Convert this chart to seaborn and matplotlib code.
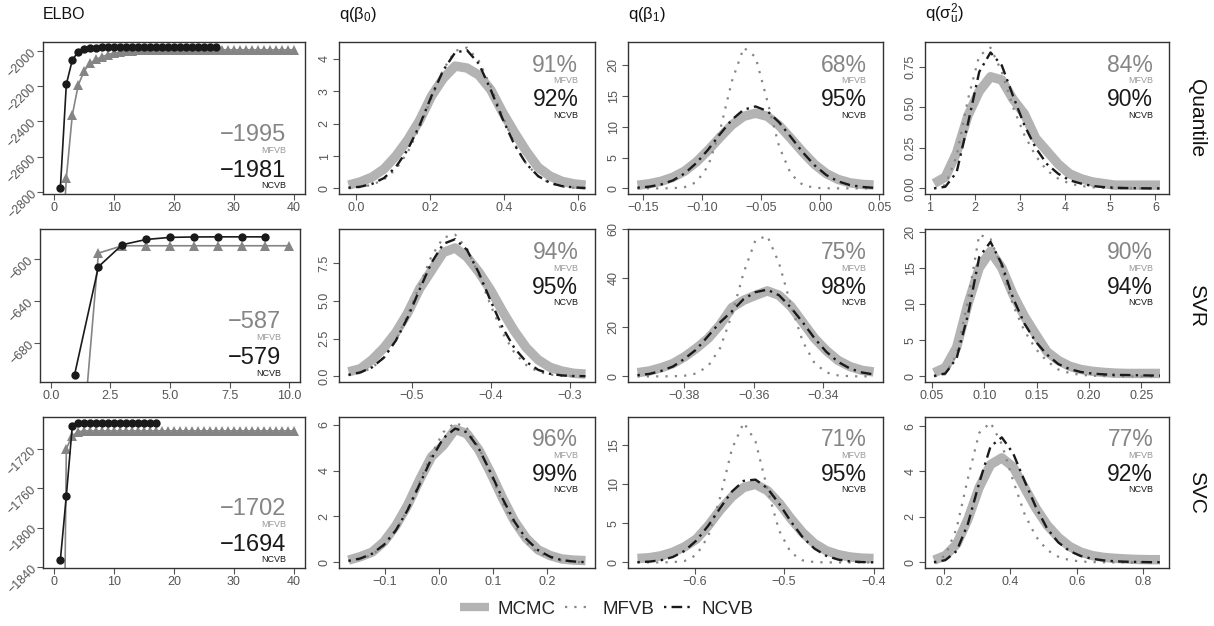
import numpy as np
import pandas as pd
import matplotlib
matplotlib.use("Agg")
import matplotlib.pyplot as plt
import seaborn as sns
from matplotlib.lines import Line2D

# ---------------- data ----------------
models = ["Quantile", "SVR", "SVC"]
param_titles = ["q($\\beta_0$)", "q($\\beta_1$)", "q($\\sigma^2_u$)"]

# ELBO traces (per iteration)
elbo_q_ncvb = [-2777, -2190, -2053, -2005, -1990, -1985, -1983, -1982, -1982, -1981,
               -1981, -1981, -1981, -1981, -1981, -1981, -1981, -1981, -1981, -1981,
               -1981, -1981, -1981, -1981, -1981, -1981, -1981]
elbo_q_mfvb = [-3300, -2721, -2363, -2194, -2113, -2071, -2049, -2034, -2022, -2014,
               -2008, -2004, -2001, -1999, -1998, -1997, -1996, -1996, -1996, -1995,
               -1995, -1995, -1995, -1995, -1995, -1995, -1995, -1995, -1995, -1995,
               -1995, -1995, -1995, -1995, -1995, -1995, -1995, -1995, -1995, -1995]
elbo_s_ncvb = [-710, -607, -586, -581, -579, -578.6, -578.5, -578.5, -578.5]
elbo_s_mfvb = [-864, -594, -587, -587, -587, -587, -587, -587, -587, -587]
elbo_v_ncvb = [-1833, -1768, -1697, -1694, -1694, -1694, -1694, -1694, -1694, -1694,
               -1694, -1694, -1694, -1694, -1694, -1694, -1694]
elbo_v_mfvb = [-2300, -1720, -1707, -1703, -1702, -1702, -1702, -1702, -1702, -1702,
               -1702, -1702, -1702, -1702, -1702, -1702, -1702, -1702, -1702, -1702,
               -1702, -1702, -1702, -1702, -1702, -1702, -1702, -1702, -1702, -1702,
               -1702, -1702, -1702, -1702, -1702, -1702, -1702, -1702, -1702, -1702]
elbo_final_mfvb = ["\u22121995", "\u2212587", "\u22121702"]
elbo_final_ncvb = ["\u22121981", "\u2212579", "\u22121694"]

# Quantile densities
q_b0_x = [-0.02, 0.012, 0.044, 0.076, 0.108, 0.14, 0.172, 0.204, 0.236, 0.268, 0.30,
          0.332, 0.364, 0.396, 0.428, 0.46, 0.492, 0.524, 0.556, 0.588, 0.62]
q_b0_mcmc = [0.10, 0.20, 0.35, 0.60, 1.00, 1.50, 2.10, 2.85, 3.40, 3.78, 3.72, 3.50, 3.05,
             2.35, 1.73, 1.15, 0.65, 0.38, 0.22, 0.14, 0.10]
q_b0_mfvb = [0.01, 0.04, 0.11, 0.28, 0.59, 1.12, 1.88, 2.80, 3.67, 4.25, 4.35, 3.94, 3.15,
             2.23, 1.38, 0.76, 0.37, 0.16, 0.06, 0.02, 0.01]
q_b0_ncvb = [0.02, 0.05, 0.14, 0.32, 0.66, 1.20, 1.95, 2.85, 3.65, 4.20, 4.27, 3.85, 3.05,
             2.15, 1.35, 0.76, 0.38, 0.17, 0.07, 0.03, 0.01]

q_b1_x = [-0.155, -0.145, -0.135, -0.125, -0.115, -0.105, -0.095, -0.085, -0.075, -0.065,
          -0.055, -0.045, -0.035, -0.025, -0.015, -0.005, 0.005, 0.015, 0.025, 0.035, 0.045]
q_b1_mcmc = [0.5, 0.75, 1.15, 1.8, 2.8, 4.3, 6.2, 8.3, 10.3, 11.7, 12.2, 11.7, 10.2, 8.1,
             5.9, 3.9, 2.4, 1.45, 0.9, 0.65, 0.55]
q_b1_mfvb = [0.0, 0.0, 0.0, 0.03, 0.2, 1.02, 3.67, 9.46, 17.4, 22.85, 21.35, 14.2, 6.8, 2.3,
             0.56, 0.1, 0.01, 0.0, 0.0, 0.0, 0.0]
q_b1_ncvb = [0.11, 0.28, 0.63, 1.29, 2.43, 4.13, 6.32, 8.82, 11.15, 12.78, 13.3, 12.55,
             10.72, 8.32, 5.86, 3.75, 2.16, 1.13, 0.54, 0.24, 0.09]

q_s2_x = [1.1, 1.35, 1.6, 1.85, 2.1, 2.35, 2.6, 2.85, 3.1, 3.35, 3.6, 3.85, 4.1, 4.35, 4.6,
          4.85, 5.1, 5.35, 5.6, 5.85, 6.1]
q_s2_mcmc = [0.03, 0.07, 0.22, 0.45, 0.60, 0.69, 0.67, 0.55, 0.46, 0.31, 0.23, 0.15, 0.09,
             0.06, 0.04, 0.03, 0.02, 0.02, 0.02, 0.02, 0.02]
q_s2_mfvb = [0.0, 0.02, 0.20, 0.55, 0.82, 0.87, 0.72, 0.50, 0.33, 0.20, 0.11, 0.06, 0.03,
             0.015, 0.007, 0.003, 0.001, 0.0, 0.0, 0.0, 0.0]
q_s2_ncvb = [0.0, 0.01, 0.10, 0.40, 0.72, 0.84, 0.76, 0.57, 0.39, 0.25, 0.15, 0.09, 0.05,
             0.03, 0.015, 0.008, 0.004, 0.002, 0.001, 0.0, 0.0]

# SVR densities
s_b0_x = [-0.58, -0.565, -0.55, -0.535, -0.52, -0.505, -0.49, -0.475, -0.46, -0.445, -0.43,
          -0.415, -0.40, -0.385, -0.37, -0.355, -0.34, -0.325, -0.31, -0.295, -0.28]
s_b0_mcmc = [0.3, 0.5, 1.1, 1.9, 2.9, 4.2, 5.8, 7.0, 8.2, 8.5, 7.9, 6.9, 5.7, 4.3, 3.0, 1.9,
             1.1, 0.6, 0.35, 0.2, 0.15]
s_b0_mfvb = [0.08, 0.23, 0.57, 1.25, 2.38, 4.06, 6.02, 7.94, 9.19, 9.38, 8.45, 6.71, 4.69,
             2.88, 1.56, 0.75, 0.31, 0.12, 0.04, 0.01, 0.0]
s_b0_ncvb = [0.10, 0.26, 0.60, 1.25, 2.37, 3.90, 5.75, 7.52, 8.77, 9.08, 8.37, 6.85, 4.99,
             3.23, 1.87, 0.96, 0.43, 0.17, 0.06, 0.02, 0.01]

s_b1_x = [-0.3935, -0.3901, -0.3867, -0.3833, -0.3799, -0.3765, -0.3731, -0.3697, -0.3663,
          -0.3629, -0.3595, -0.3561, -0.3527, -0.3493, -0.3459, -0.3425, -0.3391, -0.3357,
          -0.3323, -0.3289, -0.3255]
s_b1_mcmc = [1.5, 2.2, 3.5, 5.2, 8.0, 11.5, 15.5, 21.0, 28.0, 31.0, 33.0, 34.8, 33.0, 28.5,
             22.0, 15.5, 10.5, 6.5, 4.0, 2.5, 1.8]
s_b1_mfvb = [0.0, 0.0, 0.01, 0.05, 0.27, 1.19, 4.25, 11.5, 25.0, 42.3, 55.5, 57.2, 46.0,
             29.0, 14.2, 5.4, 1.6, 0.38, 0.07, 0.01, 0.0]
s_b1_ncvb = [0.5, 1.0, 2.2, 4.0, 7.2, 11.0, 16.5, 22.0, 26.5, 31.5, 34.3, 35.3, 33.0, 28.0,
             22.0, 15.5, 10.0, 5.9, 3.2, 1.6, 0.8]

s_s2_x = [0.052, 0.0628, 0.0736, 0.0844, 0.0952, 0.106, 0.1168, 0.1276, 0.1384, 0.1492,
          0.16, 0.1708, 0.1816, 0.1924, 0.2032, 0.214, 0.2248, 0.2356, 0.2464, 0.2572, 0.268]
s_s2_mcmc = [0.5, 1.2, 4.0, 10.0, 15.0, 17.3, 15.0, 11.3, 8.3, 5.8, 3.4, 2.2, 1.4, 0.95,
             0.7, 0.55, 0.45, 0.4, 0.4, 0.4, 0.4]
s_s2_mfvb = [0.0, 0.3, 3.0, 10.5, 19.6, 19.0, 15.0, 9.8, 6.3, 3.8, 2.1, 0.95, 0.45, 0.2,
             0.09, 0.04, 0.02, 0.01, 0.0, 0.0, 0.0]
s_s2_ncvb = [0.05, 0.4, 2.5, 8.5, 16.5, 18.6, 15.5, 10.8, 7.3, 4.8, 3.0, 1.7, 1.0, 0.6,
             0.38, 0.27, 0.2, 0.18, 0.15, 0.12, 0.1]

# SVC densities
v_b0_x = [-0.168, -0.146, -0.124, -0.102, -0.08, -0.058, -0.036, -0.014, 0.008, 0.03, 0.052,
          0.074, 0.096, 0.118, 0.14, 0.162, 0.184, 0.206, 0.228, 0.25, 0.272]
v_b0_mcmc = [0.10, 0.25, 0.45, 0.90, 1.60, 2.50, 3.60, 4.60, 5.10, 5.80, 5.60, 4.90, 3.90,
             2.80, 1.80, 1.05, 0.55, 0.30, 0.15, 0.10, 0.08]
v_b0_mfvb = [0.05, 0.14, 0.34, 0.73, 1.37, 2.31, 3.50, 4.71, 5.67, 6.09, 5.84, 5.01, 3.84,
             2.62, 1.60, 0.87, 0.42, 0.19, 0.07, 0.02, 0.01]
v_b0_ncvb = [0.07, 0.17, 0.38, 0.77, 1.40, 2.29, 3.40, 4.52, 5.41, 5.83, 5.67, 4.96, 3.91,
             2.78, 1.78, 1.02, 0.53, 0.25, 0.10, 0.04, 0.01]

v_b1_x = [-0.664, -0.6508, -0.6376, -0.6244, -0.6112, -0.598, -0.5848, -0.5716, -0.5584,
          -0.5452, -0.532, -0.5188, -0.5056, -0.4924, -0.4792, -0.466, -0.4528, -0.4396,
          -0.4264, -0.4132, -0.40]
v_b1_mcmc = [0.5, 0.6, 0.85, 1.3, 2.0, 3.0, 4.7, 6.7, 8.4, 9.6, 10.0, 9.2, 7.6, 5.6, 3.8,
             2.4, 1.5, 1.0, 0.7, 0.55, 0.5]
v_b1_mfvb = [0.0, 0.0, 0.0, 0.03, 0.19, 0.96, 3.35, 8.29, 14.5, 17.9, 15.5, 9.43, 4.07,
             1.24, 0.26, 0.04, 0.0, 0.0, 0.0, 0.0, 0.0]
v_b1_ncvb = [0.03, 0.10, 0.28, 0.69, 1.48, 2.81, 4.71, 6.95, 9.07, 10.44, 10.6, 9.5, 7.52,
             5.23, 3.21, 1.76, 0.84, 0.36, 0.13, 0.04, 0.01]

v_s2_x = [0.17, 0.204, 0.238, 0.272, 0.306, 0.34, 0.374, 0.408, 0.442, 0.476, 0.51, 0.544,
          0.578, 0.612, 0.646, 0.68, 0.714, 0.748, 0.782, 0.816, 0.85]
v_s2_mcmc = [0.1, 0.3, 0.8, 1.9, 3.3, 4.3, 4.6, 4.2, 3.3, 2.4, 1.65, 1.1, 0.7, 0.45, 0.3,
             0.22, 0.18, 0.15, 0.13, 0.12, 0.12]
v_s2_mfvb = [0.02, 0.3, 1.5, 3.7, 5.7, 6.15, 5.2, 3.6, 2.15, 1.15, 0.55, 0.25, 0.1, 0.04,
             0.015, 0.005, 0.0, 0.0, 0.0, 0.0, 0.0]
v_s2_ncvb = [0.0, 0.1, 0.5, 1.7, 3.5, 5.1, 5.5, 4.8, 3.6, 2.45, 1.5, 0.88, 0.5, 0.28, 0.16,
             0.09, 0.05, 0.03, 0.02, 0.01, 0.01]

# coverage accuracies (%)
acc_mfvb = [["91%", "68%", "84%"], ["94%", "75%", "90%"], ["96%", "71%", "77%"]]
acc_ncvb = [["92%", "95%", "90%"], ["95%", "98%", "94%"], ["99%", "95%", "92%"]]

# tick values / labels
M = "\u2212"
elbo_xticks = [[0, 10, 20, 30, 40], [0, 2.5, 5, 7.5, 10], [0, 10, 20, 30, 40]]
elbo_xlabels = [["0", "10", "20", "30", "40"], ["0.0", "2.5", "5.0", "7.5", "10.0"],
                ["0", "10", "20", "30", "40"]]
elbo_yticks = [[-2800, -2600, -2400, -2200, -2000], [-680, -640, -600],
               [-1840, -1800, -1760, -1720]]
dens_xticks = [
    [[0.0, 0.2, 0.4, 0.6], [-0.15, -0.10, -0.05, 0.0, 0.05], [1, 2, 3, 4, 5, 6]],
    [[-0.5, -0.4, -0.3], [-0.38, -0.36, -0.34], [0.05, 0.10, 0.15, 0.20, 0.25]],
    [[-0.1, 0.0, 0.1, 0.2], [-0.6, -0.5, -0.4], [0.2, 0.4, 0.6, 0.8]],
]
dens_xfmt = [["%.1f", "%.2f", "%d"], ["%.1f", "%.2f", "%.2f"], ["%.1f", "%.1f", "%.1f"]]
dens_yticks = [
    [[0, 1, 2, 3, 4], [0, 5, 10, 15, 20], [0, 0.25, 0.5, 0.75]],
    [[0, 2.5, 5, 7.5], [0, 20, 40, 60], [0, 5, 10, 15, 20]],
    [[0, 2, 4, 6], [0, 5, 10, 15], [0, 2, 4, 6]],
]
dens_yfmt = [["%d", "%d", "%.2f"], ["%.1f", "%d", "%d"], ["%d", "%d", "%d"]]

elbo_data = [(elbo_q_mfvb, elbo_q_ncvb), (elbo_s_mfvb, elbo_s_ncvb), (elbo_v_mfvb, elbo_v_ncvb)]
dens_data = [
    [(q_b0_x, q_b0_mcmc, q_b0_mfvb, q_b0_ncvb), (q_b1_x, q_b1_mcmc, q_b1_mfvb, q_b1_ncvb),
     (q_s2_x, q_s2_mcmc, q_s2_mfvb, q_s2_ncvb)],
    [(s_b0_x, s_b0_mcmc, s_b0_mfvb, s_b0_ncvb), (s_b1_x, s_b1_mcmc, s_b1_mfvb, s_b1_ncvb),
     (s_s2_x, s_s2_mcmc, s_s2_mfvb, s_s2_ncvb)],
    [(v_b0_x, v_b0_mcmc, v_b0_mfvb, v_b0_ncvb), (v_b1_x, v_b1_mcmc, v_b1_mfvb, v_b1_ncvb),
     (v_s2_x, v_s2_mcmc, v_s2_mfvb, v_s2_ncvb)],
]

# ---------------- style ----------------
sns.set_theme(style="white")
plt.rcParams["font.family"] = ["Liberation Sans", "DejaVu Sans"]
plt.rcParams["mathtext.fontset"] = "custom"
plt.rcParams["mathtext.rm"] = "Liberation Sans"
plt.rcParams["mathtext.it"] = "Liberation Sans"
plt.rcParams["mathtext.bf"] = "Liberation Sans:bold"

C_MCMC = "#b3b3b3"
C_MFVB = "#858585"
C_NCVB = "#1a1a1a"
C_TICK = "#555555"
LS_MFVB = (0, (1, 3.2))
LS_NCVB = (0, (1, 2.2, 4.5, 2.2))

W, H = 1214, 626
fig = plt.figure(figsize=(W / 100, H / 100), dpi=100)

col_l = [43, 339, 628, 925]
col_r = [305, 595, 883, 1169]
row_t = [42, 229, 417]
row_b = [194, 382, 568]
elbo_xlim = [(-1.9, 41.9), (-0.45, 10.45), (-1.9, 41.9)]
elbo_ylim = [(-2810, -1951), (-717, -571), (-1841, -1688)]


def make_ax(r, c):
    l, rr = col_l[c], col_r[c]
    t, b = row_t[r], row_b[r]
    if c == 0 and r == 1:
        l, rr = 40, 300
    ax = fig.add_axes([l / W, 1 - b / H, (rr - l) / W, (b - t) / H])
    for s in ax.spines.values():
        s.set_color("#333333")
        s.set_linewidth(1.0)
    ax.tick_params(axis="both", which="both", direction="out", length=4, width=0.8,
                   color=C_TICK, labelcolor=C_TICK, labelsize=9, pad=2,
                   bottom=True, left=True)
    ax.grid(False)
    return ax


def pad_lim(vals):
    lo, hi = min(vals), max(vals)
    p = 0.04 * (hi - lo)
    return lo - p, hi + p


for r in range(3):
    # ---- ELBO panel ----
    ax = make_ax(r, 0)
    mf, nc = elbo_data[r]
    df_mf = pd.DataFrame({"it": np.arange(1, len(mf) + 1), "elbo": mf})
    df_nc = pd.DataFrame({"it": np.arange(1, len(nc) + 1), "elbo": nc})
    sns.lineplot(data=df_mf, x="it", y="elbo", ax=ax, color=C_MFVB, lw=1.2, marker="^",
                 markersize=6.5, markeredgewidth=0, estimator=None)
    sns.lineplot(data=df_nc, x="it", y="elbo", ax=ax, color=C_NCVB, lw=1.2, marker="o",
                 markersize=6, markeredgewidth=0, estimator=None)
    ax.set_xlim(*elbo_xlim[r])
    ax.set_ylim(*elbo_ylim[r])
    ax.set_xticks(elbo_xticks[r])
    ax.set_xticklabels(elbo_xlabels[r])
    ax.set_yticks(elbo_yticks[r])
    ax.set_yticklabels([str(v).replace("-", M) for v in elbo_yticks[r]], rotation=45,
                       ha="right", va="center", rotation_mode="anchor")
    ax.set_xlabel("")
    ax.set_ylabel("")
    ax.text(0.927, 0.35, elbo_final_mfvb[r], transform=ax.transAxes, ha="right",
            va="baseline", fontsize=17, color=C_MFVB)
    ax.text(0.927, 0.272, "MFVB", transform=ax.transAxes, ha="right", va="baseline",
            fontsize=6.5, color="#999999")
    ax.text(0.927, 0.115, elbo_final_ncvb[r], transform=ax.transAxes, ha="right",
            va="baseline", fontsize=17, color=C_NCVB)
    ax.text(0.927, 0.037, "NCVB", transform=ax.transAxes, ha="right", va="baseline",
            fontsize=6.5, color=C_NCVB)

    # ---- density panels ----
    for c in range(3):
        ax = make_ax(r, c + 1)
        x, mc, mf, nc = dens_data[r][c]
        sns.lineplot(x=x, y=mc, ax=ax, color=C_MCMC, lw=6.8, estimator=None,
                     solid_capstyle="butt")
        sns.lineplot(x=x, y=mf, ax=ax, color=C_MFVB, lw=1.6, linestyle=LS_MFVB,
                     estimator=None)
        sns.lineplot(x=x, y=nc, ax=ax, color=C_NCVB, lw=1.7, linestyle=LS_NCVB,
                     estimator=None)
        ax.set_xlim(*pad_lim(x))
        ax.set_ylim(*pad_lim(list(mc) + list(mf) + list(nc) + [0]))
        xt = dens_xticks[r][c]
        ax.set_xticks(xt)
        ax.set_xticklabels([(dens_xfmt[r][c] % v).replace("-", M) for v in xt])
        yt = dens_yticks[r][c]
        ax.set_yticks(yt)
        ax.set_yticklabels([(dens_yfmt[r][c] % v) for v in yt], rotation=90, va="center")
        ax.set_xlabel("")
        ax.set_ylabel("")
        ax.text(0.935, 0.805, acc_mfvb[r][c], transform=ax.transAxes, ha="right",
                va="baseline", fontsize=16.5, color=C_MFVB)
        ax.text(0.935, 0.728, "MFVB", transform=ax.transAxes, ha="right", va="baseline",
                fontsize=6.5, color="#999999")
        ax.text(0.935, 0.578, acc_ncvb[r][c], transform=ax.transAxes, ha="right",
                va="baseline", fontsize=16.5, color=C_NCVB)
        ax.text(0.935, 0.501, "NCVB", transform=ax.transAxes, ha="right", va="baseline",
                fontsize=6.5, color=C_NCVB)

    # row label
    fig.text(1197 / W, 1 - (row_t[r] + row_b[r]) / 2 / H, models[r], rotation=-90,
             ha="center", va="center", fontsize=15, color="#111111")

# column titles
fig.text(col_l[0] / W, 1 - 19 / H, "ELBO", ha="left", va="baseline", fontsize=11.5,
         color="#111111")
for c in range(3):
    fig.text(col_l[c + 1] / W, 1 - 19 / H, param_titles[c], ha="left", va="baseline",
             fontsize=12, color="#111111")

# legend
handles = [
    Line2D([], [], color=C_MCMC, lw=6, solid_capstyle="butt"),
    Line2D([], [], color=C_MFVB, lw=1.6, linestyle=LS_MFVB),
    Line2D([], [], color=C_NCVB, lw=1.7, linestyle=LS_NCVB),
]
fig.legend(handles, ["MCMC", "MFVB", "NCVB"], loc="center",
           bbox_to_anchor=(0.5, 1 - 609 / H), ncol=3, frameon=False, fontsize=13.5,
           handlelength=1.5, columnspacing=0.5, handletextpad=0.5)

fig.savefig("out.png", dpi=100)
